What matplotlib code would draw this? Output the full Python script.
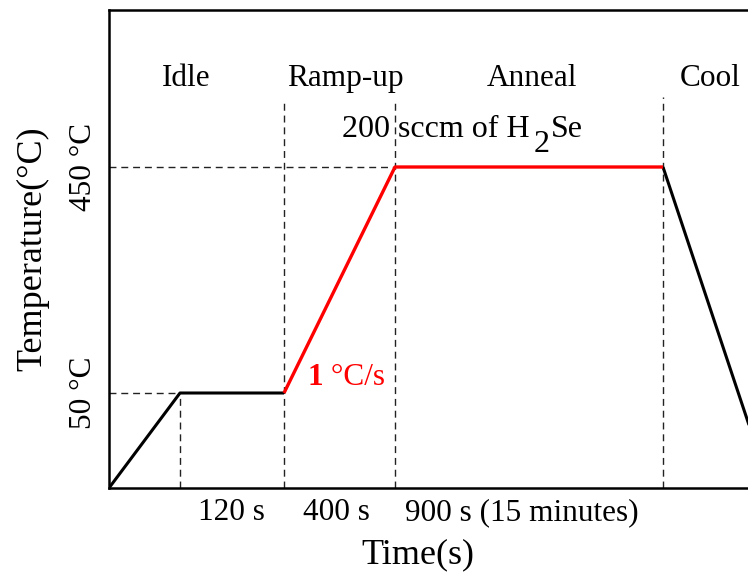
import matplotlib
matplotlib.use('Agg')
import matplotlib.pyplot as plt

plt.rcParams.update({'font.family': 'Liberation Serif', 'mathtext.fontset': 'stix'})

# schematic profile (drawing units, not to scale)
time_pts = [0, 71, 175, 286, 554, 661]
temp_pts = [0, 95, 95, 321, 321, 0]
ramp_idx = (2, 4)          # red segment: ramp-up + anneal
lvl_50, lvl_450 = 95, 321
dash_top = [95, 388, 388, 391]   # heights of vertical dashed guides
phase_names = ['Idle', 'Ramp-up', 'Anneal', 'Cool']
phase_x = [77, 236, 423, 601]
dur_labels = ['120 s', '400 s', '900 s (15 minutes)']
dur_x = [122, 227, 413]

fig = plt.figure(figsize=(7.48, 5.81), dpi=100)
ax = fig.add_axes([109/748, 93/581, 690/748, 478/581])
ax.set_xlim(0, 690)
ax.set_ylim(0, 478)

ax.spines['right'].set_visible(False)
for s in ['left', 'top', 'bottom']:
    ax.spines[s].set_linewidth(1.8)

# guides
gk = dict(color='#222222', lw=1.0, ls=(0, (5, 3.5)), zorder=1)
ax.plot([0, time_pts[1]], [lvl_50, lvl_50], **gk)
ax.plot([0, time_pts[3]], [lvl_450, lvl_450], **gk)
for x, top in zip(time_pts[1:5], dash_top):
    ax.plot([x, x], [0, top], **gk)

# profile
a, b = ramp_idx
ax.plot(time_pts[:a+1], temp_pts[:a+1], color='black', lw=2.2, zorder=3, solid_capstyle='butt')
ax.plot(time_pts[b:], temp_pts[b:], color='black', lw=2.2, zorder=3, solid_capstyle='butt')
ax.plot(time_pts[a:b+1], temp_pts[a:b+1], color='#ff0000', lw=2.4, zorder=4, solid_capstyle='butt')

ax.set_xticks([])
ax.set_yticks([lvl_50, lvl_450])
ax.set_yticklabels(['50 °C', '450 °C'], rotation=90, va='center', fontsize=22.5)
ax.tick_params(axis='y', length=0, pad=8)

for name, x in zip(phase_names, phase_x):
    ax.text(x, 410, name, ha='center', va='center', fontsize=22.5)

for lab, x in zip(dur_labels, dur_x):
    ax.text(x, -25, lab, ha='center', va='center', fontsize=22.5)

t1 = ax.text(233, 351, '200 sccm of H', ha='left', va='baseline', fontsize=23)
t2 = ax.annotate('2', xy=(1, 0), xycoords=t1, xytext=(3, -11), textcoords='offset points',
                 ha='left', va='bottom', fontsize=23)
ax.annotate('Se', xy=(1, 0), xycoords=t2, xytext=(1, 11), textcoords='offset points',
            ha='left', va='bottom', fontsize=23)

r1 = ax.text(198, 103, '1', ha='left', va='baseline', fontsize=22.5, color='#ff0000', fontweight='bold')
ax.annotate(' °C/s', xy=(1, 0), xycoords=r1, ha='left', va='bottom',
            fontsize=22.5, color='#ff0000')

ax.set_xlabel('Time(s)', fontsize=26)
ax.xaxis.set_label_coords(0.448, -0.106)
ax.set_ylabel('Temperature(°C)', fontsize=26, labelpad=14)

fig.savefig('out.png', dpi=100)
